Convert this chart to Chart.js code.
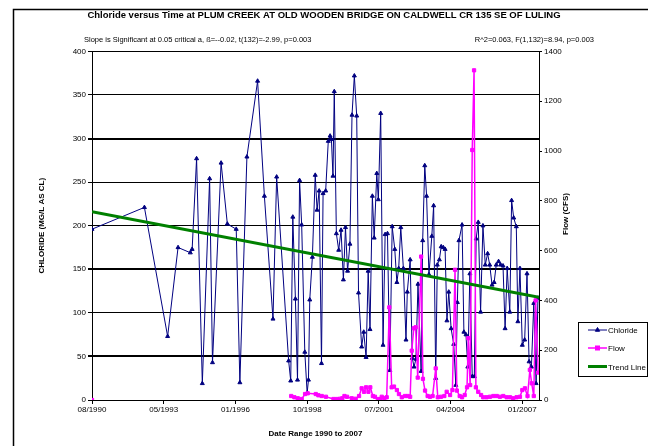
<!DOCTYPE html>
<html>
<head>
<meta charset="utf-8">
<script src="https://cdn.jsdelivr.net/npm/chart.js@4"></script>
<style>
  body { margin: 0; background: #fff; }
  #wrap { width: 648px; height: 446px; }
</style>
</head>
<body>
<div id="wrap"><canvas id="chlorideChart" width="648" height="446"></canvas></div>
<script>
// --- Daten (Jahre als Dezimalzahl) ---
const chlorideDates = [
  1990.58, 1992.59, 1993.48, 1993.88, 1994.35, 1994.42, 1994.59, 1994.81, 1995.09, 1995.20,
  1995.53, 1995.77, 1996.11, 1996.25, 1996.52, 1996.93, 1997.19, 1997.52, 1997.66, 1998.12,
  1998.20, 1998.28, 1998.38, 1998.46, 1998.54, 1998.62, 1998.74, 1998.83, 1998.88, 1998.93,
  1999.03, 1999.14, 1999.21, 1999.29, 1999.38, 1999.44, 1999.54, 1999.64, 1999.71, 1999.76,
  1999.82, 1999.87, 1999.95, 2000.04, 2000.13, 2000.22, 2000.30, 2000.38, 2000.47, 2000.55,
  2000.64, 2000.73, 2000.80, 2000.92, 2001.00, 2001.09, 2001.17, 2001.24, 2001.33, 2001.40,
  2001.50, 2001.56, 2001.65, 2001.74, 2001.82, 2001.91, 2002.00, 2002.09, 2002.19, 2002.27,
  2002.34, 2002.42, 2002.52, 2002.62, 2002.67, 2002.78, 2002.86, 2002.93, 2003.00, 2003.08,
  2003.20, 2003.26, 2003.34, 2003.41, 2003.50, 2003.61, 2003.68, 2003.76, 2003.82, 2003.90,
  2003.97, 2004.05, 2004.12, 2004.19, 2004.26, 2004.35, 2004.45, 2004.53, 2004.59, 2004.65,
  2004.77, 2004.84, 2004.92, 2004.99, 2005.07, 2005.16, 2005.24, 2005.31, 2005.39, 2005.48,
  2005.57, 2005.66, 2005.75, 2005.83, 2005.92, 2006.00, 2006.08, 2006.17, 2006.25, 2006.34,
  2006.42, 2006.50, 2006.60, 2006.67, 2006.75, 2006.85, 2006.91, 2006.99, 2007.08, 2007.17,
  2007.26, 2007.34, 2007.43, 2007.52, 2007.61, 2007.68
];
const chlorideValues = [
  196, 221, 73, 175, 169, 173, 277, 19, 254, 43,
  272, 202, 196, 20, 279, 366, 234, 93, 256, 45,
  22, 210, 116, 23, 252, 201, 55, 8, 23, 115,
  164, 258, 218, 240, 42, 237, 240, 297, 303, 299,
  257, 354, 191, 172, 195, 138, 198, 148, 179, 327,
  372, 326, 123, 61, 78, 49, 148, 81, 234, 186,
  260, 230, 329, 63, 190, 191, 34, 199, 173, 135,
  151, 198, 151, 69, 124, 161, 48, 38, 47, 133,
  33, 183, 269, 234, 144, 188, 223, 25, 155, 161,
  176, 175, 173, 91, 124, 82, 64, 17, 112, 183,
  201, 78, 75, 38, 145, 27, 27, 185, 204, 101,
  200, 155, 168, 155, 132, 135, 155, 159, 155, 154,
  82, 151, 101, 229, 209, 199, 90, 151, 63, 69,
  145, 44, 38, 111, 19, 117
];

const flowDates = [
  1990.58, 1998.22, 1998.34, 1998.47, 1998.62, 1998.75, 1998.85, 1999.16, 1999.26, 1999.39,
  1999.55, 1999.84, 1999.97, 2000.09, 2000.18, 2000.26, 2000.36, 2000.54, 2000.69, 2000.82,
  2000.92, 2001.01, 2001.09, 2001.18, 2001.25, 2001.35, 2001.43, 2001.54, 2001.64, 2001.69,
  2001.79, 2001.88, 2001.98, 2002.07, 2002.16, 2002.27, 2002.35, 2002.46, 2002.58, 2002.69,
  2002.78, 2002.84, 2002.92, 2002.99, 2003.07, 2003.20, 2003.27, 2003.35, 2003.45, 2003.54,
  2003.64, 2003.76, 2003.84, 2003.96, 2004.09, 2004.18, 2004.31, 2004.40, 2004.50, 2004.57,
  2004.68, 2004.77, 2004.87, 2004.96, 2005.01, 2005.08, 2005.16, 2005.23, 2005.30, 2005.39,
  2005.50, 2005.58, 2005.71, 2005.84, 2005.97, 2006.10, 2006.22, 2006.35, 2006.48, 2006.61,
  2006.73, 2006.86, 2006.99, 2007.08, 2007.18, 2007.28, 2007.37, 2007.44, 2007.52, 2007.59,
  2007.69
];
const flowValues = [
  0, 16, 11, 7, 4, 24, 27, 24, 19, 16,
  13, 4, 4, 5, 7, 16, 13, 7, 5, 16,
  47, 33, 51, 33, 51, 16, 13, 4, 4, 13,
  7, 11, 372, 51, 54, 40, 24, 11, 16, 16,
  13, 198, 288, 292, 90, 576, 85, 38, 16, 13,
  16, 127, 11, 13, 16, 33, 20, 40, 523, 38,
  16, 11, 20, 51, 248, 60, 1004, 1324, 51, 33,
  20, 11, 11, 13, 16, 16, 13, 16, 11, 11,
  7, 11, 13, 40, 47, 16, 121, 67, 16, 400,
  110
];

const trendDates = [1990.58, 2007.72];
const trendValues = [216, 118];

const xTickPositions = [1990.58, 1993.33, 1996.08, 1998.83, 2001.58, 2004.33, 2007.08];
const xTickLabels = ['08/1990', '05/1993', '01/1996', '10/1998', '07/2001', '04/2004', '01/2007'];

// --- Chart Setup ---
const FONT = "'Liberation Sans', Arial, sans-serif";
Chart.defaults.font.family = FONT;
Chart.defaults.color = '#000';

const toPoints = (xs, ys) => xs.map((x, i) => ({ x: x, y: ys[i] }));
const thickGrid = [300, 150, 50]; // diese Linien sind im Original dicker

const chlorideStyle = { color: '#000080', point: 'triangle' };
const flowStyle = { color: '#FF00FF', point: 'rect' };
const trendStyle = { color: '#008000' };

// Zeichnet Rahmen, Untertitel, rechten Achsentitel und Legende
const decorPlugin = {
  id: 'decor',
  afterDraw(chart) {
    const ctx = chart.ctx;
    ctx.save();

    // Aussenrahmen
    ctx.strokeStyle = '#000';
    ctx.lineWidth = 1.5;
    ctx.strokeRect(13.5, 9.5, 700, 500);

    // Statistik-Zeilen
    ctx.fillStyle = '#000';
    ctx.font = '7.5px ' + FONT;
    ctx.textBaseline = 'middle';
    ctx.textAlign = 'left';
    ctx.fillText('Slope is Significant at 0.05 critical a, \u00DF=--0.02, t(132)=-2.99, p=0.003', 84, 40);
    ctx.textAlign = 'right';
    ctx.fillText('R^2=0.063, F(1,132)=8.94, p=0.003', 594, 40);

    // Rechter Achsentitel (von unten nach oben gelesen)
    ctx.save();
    ctx.translate(566, 214);
    ctx.rotate(-Math.PI / 2);
    ctx.textAlign = 'center';
    ctx.font = 'bold 8px ' + FONT;
    ctx.fillText('Flow (CFS)', 0, 0);
    ctx.restore();

    // Legende
    ctx.fillStyle = '#fff';
    ctx.fillRect(578, 322, 69, 54);
    ctx.strokeStyle = '#000';
    ctx.lineWidth = 1;
    ctx.strokeRect(578.5, 322.5, 69, 54);

    const items = [
      { label: 'Chloride', color: chlorideStyle.color, width: 1, marker: 'triangle', y: 330 },
      { label: 'Flow', color: flowStyle.color, width: 1.5, marker: 'rect', y: 348 },
      { label: 'Trend Line', color: trendStyle.color, width: 3, marker: null, y: 366.5 }
    ];
    items.forEach(it => {
      ctx.strokeStyle = it.color;
      ctx.lineWidth = it.width;
      ctx.beginPath();
      ctx.moveTo(588, it.y);
      ctx.lineTo(607, it.y);
      ctx.stroke();
      if (it.marker) {
        Chart.helpers.drawPoint(ctx, { pointStyle: it.marker, radius: 2.5, borderWidth: 1 }, 597.5, it.y);
        ctx.fillStyle = it.color;
        ctx.fill();
      }
      ctx.fillStyle = '#000';
      ctx.font = '8px ' + FONT;
      ctx.textAlign = 'left';
      ctx.textBaseline = 'middle';
      ctx.fillText(it.label, 608, it.y + 1);
    });

    ctx.restore();
  }
};

const ctxChart = document.getElementById('chlorideChart').getContext('2d');
const chart = new Chart(ctxChart, {
  type: 'line',
  data: {
    datasets: [
      {
        label: 'Trend Line',
        data: toPoints(trendDates, trendValues),
        borderColor: trendStyle.color,
        borderWidth: 3,
        pointRadius: 0,
        yAxisID: 'y',
        order: 0
      },
      {
        label: 'Flow',
        data: toPoints(flowDates, flowValues),
        borderColor: flowStyle.color,
        backgroundColor: flowStyle.color,
        borderWidth: 1.5,
        pointStyle: flowStyle.point,
        pointRadius: 2.3,
        pointBorderWidth: 1,
        yAxisID: 'y1',
        order: 1,
        segment: {
          // erster Messwert (1990) steht allein
          borderColor: c => c.p0DataIndex === 0 ? 'rgba(0,0,0,0)' : flowStyle.color
        }
      },
      {
        label: 'Chloride',
        data: toPoints(chlorideDates, chlorideValues),
        borderColor: chlorideStyle.color,
        backgroundColor: chlorideStyle.color,
        borderWidth: 1,
        pointStyle: chlorideStyle.point,
        pointRadius: 2.3,
        pointBorderWidth: 1,
        yAxisID: 'y',
        order: 2
      }
    ]
  },
  options: {
    responsive: false,
    devicePixelRatio: 1,
    animation: false,
    layout: { padding: 0 },
    plugins: {
      legend: { display: false },
      tooltip: { enabled: false },
      title: {
        display: true,
        text: 'Chloride versus Time at PLUM CREEK AT OLD WOODEN BRIDGE ON CALDWELL CR 135 SE OF LULING',
        font: { size: 9.5, weight: 'bold' },
        color: '#000',
        padding: { top: 10, bottom: 30 }
      }
    },
    scales: {
      x: {
        type: 'linear',
        min: 1990.58,
        max: 2007.72,
        afterBuildTicks: scale => {
          scale.ticks = xTickPositions.map(v => ({ value: v }));
        },
        afterFit: scale => { scale.height = 46; },
        ticks: {
          autoSkip: false,
          maxRotation: 0,
          padding: 1,
          font: { size: 8 },
          callback: (v, i) => xTickLabels[i]
        },
        grid: { drawOnChartArea: false, color: '#000', tickLength: 4 },
        border: { color: '#000', width: 1 },
        title: {
          display: true,
          text: 'Date Range 1990 to 2007',
          font: { size: 8, weight: 'bold' },
          padding: { top: 0, bottom: 7 }
        }
      },
      y: {
        position: 'left',
        min: 0,
        max: 400,
        afterFit: scale => { scale.width = 92; },
        ticks: { stepSize: 50, padding: 2, font: { size: 8 } },
        grid: {
          color: '#000',
          lineWidth: c => thickGrid.includes(c.tick.value) ? 2 : 1,
          tickLength: 4
        },
        border: { color: '#000', width: 1 },
        title: {
          display: true,
          text: 'CHLORIDE (MG/L AS CL)',
          font: { size: 8, weight: 'bold' },
          padding: { top: 37, bottom: 0 }
        }
      },
      y1: {
        position: 'right',
        min: 0,
        max: 1400,
        afterFit: scale => { scale.width = 109; },
        ticks: { stepSize: 200, padding: 2, font: { size: 8 }, callback: v => String(v) },
        grid: { drawOnChartArea: false, color: '#000', tickLength: 3 },
        border: { color: '#000', width: 1 }
      }
    }
  },
  plugins: [decorPlugin]
});
</script>
</body>
</html>
